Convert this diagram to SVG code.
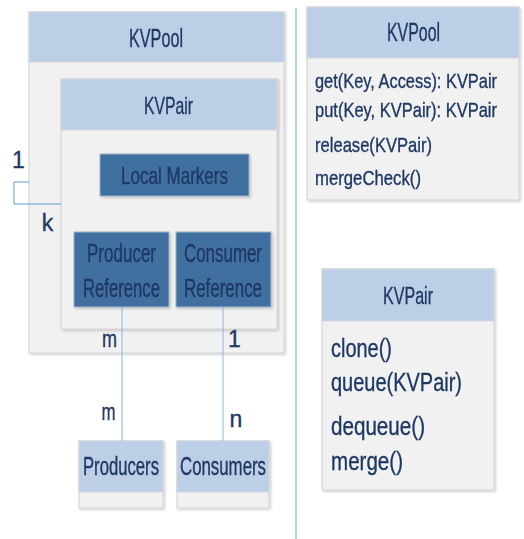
<svg xmlns="http://www.w3.org/2000/svg" width="524" height="539" viewBox="0 0 524 539">
<defs>
<filter id="sh" x="-10%" y="-10%" width="130%" height="130%">
<feDropShadow dx="1.5" dy="1.5" stdDeviation="1" flood-color="#000" flood-opacity="0.18"/>
</filter>
<style>
text{font-family:"Liberation Sans",Arial,sans-serif;fill:#1F3864;stroke:#1F3864;stroke-width:0.35px}
.hd{fill:#BCCFE7;stroke:#D2D7DE;stroke-width:1}
.bd{fill:#F1F1F1;stroke:#D2D2D2;stroke-width:1}
.dk{fill:#41709F;stroke:#9FB3C8;stroke-width:1}
.c{text-anchor:middle}
.conn{fill:none;stroke:#8EB4E3;stroke-width:1}
.brk{fill:none;stroke:#5B9BD5;stroke-width:1}
.lbl{font-size:23px;text-anchor:middle}
</style>
</defs>
<line x1="296" y1="8" x2="296" y2="539" stroke="#9DC3E6" stroke-width="1.5"/>
<g id="kvpool-container" filter="url(#sh)">
<rect class="bd" x="29" y="12" width="255" height="341"/>
<rect class="hd" x="29" y="12" width="255" height="50"/>
<text class="c" x="156" y="47" font-size="26" textLength="54" lengthAdjust="spacingAndGlyphs">KVPool</text>
</g>
<g id="kvpair-container" filter="url(#sh)">
<rect class="bd" x="61" y="79" width="216" height="250"/>
<rect class="hd" x="61" y="79" width="216" height="51"/>
<text class="c" x="168.5" y="114" font-size="24" textLength="49" lengthAdjust="spacingAndGlyphs">KVPair</text>
</g>
<g id="local-markers" filter="url(#sh)">
<rect class="dk" x="100" y="154" width="149" height="42"/>
<text class="c" x="174.5" y="184" font-size="24" textLength="107" lengthAdjust="spacingAndGlyphs">Local Markers</text>
</g>
<g id="producer-reference" filter="url(#sh)">
<rect class="dk" x="74" y="232" width="95" height="75"/>
<text class="c" x="121.5" y="262" font-size="26" textLength="69" lengthAdjust="spacingAndGlyphs">Producer</text>
<text class="c" x="121.5" y="297" font-size="26" textLength="77" lengthAdjust="spacingAndGlyphs">Reference</text>
</g>
<g id="consumer-reference" filter="url(#sh)">
<rect class="dk" x="176" y="232" width="95" height="75"/>
<text class="c" x="223" y="262" font-size="26" textLength="78" lengthAdjust="spacingAndGlyphs">Consumer</text>
<text class="c" x="223" y="297" font-size="26" textLength="78" lengthAdjust="spacingAndGlyphs">Reference</text>
</g>
<g id="producers" filter="url(#sh)">
<rect class="bd" x="79" y="441" width="84" height="67"/>
<rect class="hd" x="79" y="441" width="84" height="51"/>
<text class="c" x="121" y="475" font-size="25" textLength="76" lengthAdjust="spacingAndGlyphs">Producers</text>
</g>
<g id="consumers" filter="url(#sh)">
<rect class="bd" x="177" y="441" width="92" height="67"/>
<rect class="hd" x="177" y="441" width="92" height="51"/>
<text class="c" x="223" y="475" font-size="25" textLength="86" lengthAdjust="spacingAndGlyphs">Consumers</text>
</g>
<g id="connectors">
<path class="brk" d="M29,182 H14 V204 H61"/>
<line class="conn" x1="122" y1="307" x2="122" y2="441"/>
<line class="conn" x1="223" y1="307" x2="223" y2="441"/>
<text class="lbl" x="18.5" y="168">1</text>
<text class="lbl" x="47.5" y="231">k</text>
<text class="lbl" x="109.5" y="347" textLength="15" lengthAdjust="spacingAndGlyphs">m</text>
<text class="lbl" x="234.5" y="347">1</text>
<text class="lbl" x="108.5" y="420" textLength="14" lengthAdjust="spacingAndGlyphs">m</text>
<text class="lbl" x="236" y="427">n</text>
</g>
<g id="kvpool-class" filter="url(#sh)">
<rect class="bd" x="307" y="7" width="212" height="193"/>
<rect class="hd" x="307" y="7" width="212" height="51"/>
<text class="c" x="413.5" y="41" font-size="26" textLength="53" lengthAdjust="spacingAndGlyphs">KVPool</text>
<text x="315" y="88" font-size="21" textLength="182" lengthAdjust="spacingAndGlyphs">get(Key, Access): KVPair</text>
<text x="315" y="117" font-size="21" textLength="182" lengthAdjust="spacingAndGlyphs">put(Key, KVPair): KVPair</text>
<text x="315" y="152" font-size="21" textLength="117" lengthAdjust="spacingAndGlyphs">release(KVPair)</text>
<text x="315" y="185" font-size="21" textLength="106" lengthAdjust="spacingAndGlyphs">mergeCheck()</text>
</g>
<g id="kvpair-class" filter="url(#sh)">
<rect class="bd" x="322" y="269" width="172" height="221"/>
<rect class="hd" x="322" y="269" width="172" height="52"/>
<text class="c" x="408" y="304" font-size="23" textLength="50" lengthAdjust="spacingAndGlyphs">KVPair</text>
<text x="331" y="357" font-size="26" textLength="61" lengthAdjust="spacingAndGlyphs">clone()</text>
<text x="331" y="391" font-size="26" textLength="131" lengthAdjust="spacingAndGlyphs">queue(KVPair)</text>
<text x="331" y="435" font-size="26" textLength="94" lengthAdjust="spacingAndGlyphs">dequeue()</text>
<text x="331" y="470" font-size="26" textLength="72" lengthAdjust="spacingAndGlyphs">merge()</text>
</g>
</svg>
